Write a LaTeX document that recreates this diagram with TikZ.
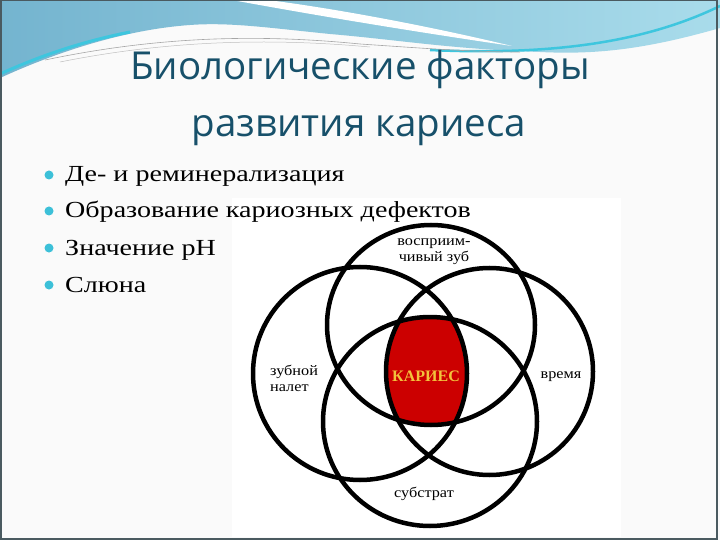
\documentclass[tikz,border=0pt]{standalone}
\usepackage{fontspec}
\setmainfont{Liberation Serif}
\newfontfamily\titlefont{Open Sans}
\newfontfamily\bulletfont[FakeStretch=1.22]{Liberation Serif}
\newfontfamily\labelfont[FakeStretch=1.12]{Liberation Serif}
\definecolor{slidebg}{HTML}{FAFAFA}
\definecolor{bandA}{HTML}{74B4CF}
\definecolor{bandB}{HTML}{A9DCEB}
\definecolor{streak}{HTML}{3EC6DE}
\definecolor{titlecol}{HTML}{17506A}
\definecolor{dotcol}{HTML}{3CC0D8}
\definecolor{frame}{HTML}{4A5A60}
\definecolor{cariesred}{HTML}{CC0000}
\definecolor{cariestext}{HTML}{F2C23C}
\tikzset{
  ring/.style={draw=black, line width=4.5pt},
  bullettext/.style={anchor=base west, inner sep=0pt, font=\bulletfont\fontsize{23}{26}\selectfont},
  bulletdot/.style={circle, fill=dotcol, inner sep=0pt, minimum size=9pt},
  label/.style={inner sep=0pt, font=\labelfont\fontsize{14.5}{16}\selectfont, align=center},
  titletext/.style={anchor=base, inner sep=0pt, text=titlecol, font=\titlefont\fontsize{38.5}{42}\selectfont}
}
\begin{document}
\begin{tikzpicture}[x=1pt,y=-1pt]
\useasboundingbox (0,0) rectangle (720,540);
% slide background
\fill[slidebg] (0,0) rectangle (720,540);
% top band
\shade[left color=bandA, right color=bandB] (0,0) -- (720,0) -- (720,28)
  .. controls (650,48) and (600,55) .. (540,52)
  .. controls (450,49) and (400,40) .. (330,34)
  .. controls (270,28) and (230,22) .. (190,25)
  .. controls (120,30) and (50,55) .. (0,78) -- cycle;
% white swoosh
\fill[white] (232,0) .. controls (330,18) and (430,34) .. (512,46)
  .. controls (420,24) and (330,8) .. (268,0) -- cycle;
% cyan streaks
\draw[streak, line width=2.5pt] (430,50) .. controls (560,56) and (650,40) .. (720,6);
\draw[streak, line width=3pt] (0,74) .. controls (40,56) and (80,42) .. (130,32);
\draw[gray!70, line width=0.6pt] (45,60) .. controls (150,38) and (250,33) .. (360,44) .. controls (420,48) and (470,52) .. (520,52);
\draw[gray!50, line width=0.5pt] (60,62) .. controls (160,42) and (260,37) .. (370,47);
% frame
\draw[frame, line width=1.5pt] (1,0.5) -- (717,0.5) -- (717,539) -- (1,539) -- cycle;
% white picture panel
\fill[white] (232,198) rectangle (621,537);
% title
\node[titletext] (t1) at (360,80) {Биологические факторы};
\node[titletext] (t2) at (359,137) {развития кариеса};
% bullets
\node[bulletdot] (d1) at (49,175) {};
\node[bullettext] (b1) at (65,182) {Де- и реминерализация};
\node[bulletdot] (d2) at (49,211) {};
\node[bullettext] (b2) at (65,218) {Образование кариозных дефектов};
\node[bulletdot] (d3) at (49,248) {};
\node[bullettext] (b3) at (65,255) {Значение рН};
\node[bulletdot] (d4) at (49,285) {};
\node[bullettext] (b4) at (65,292) {Слюна};
% red intersection
\begin{scope}
  \clip (431,325) ellipse [x radius=104, y radius=100];
  \clip (430,421.5) ellipse [x radius=107, y radius=104.5];
  \clip (360,373.5) ellipse [x radius=107, y radius=106.5];
  \fill[cariesred] (489.5,371.5) ellipse [x radius=103.5, y radius=103.5];
\end{scope}
% rings
\draw[ring] (431,325) ellipse [x radius=104, y radius=100];
\draw[ring] (430,421.5) ellipse [x radius=107, y radius=104.5];
\draw[ring] (360,373.5) ellipse [x radius=107, y radius=106.5];
\draw[ring] (489.5,371.5) ellipse [x radius=103.5, y radius=103.5];
% labels
\node[label] (l1) at (434,252) {восприим-\\[0pt]чивый зуб};
\node[label, align=left, anchor=west] (l2) at (270,378) {зубной\\[0pt]налет};
\node[label] (l3) at (561,377) {время};
\node[label] (l4) at (424,494) {субстрат};
\node[inner sep=0pt, text=cariestext, font=\bfseries\fontsize{16}{18}\selectfont] (k) at (426,376) {КАРИЕС};
\end{tikzpicture}
\end{document}
